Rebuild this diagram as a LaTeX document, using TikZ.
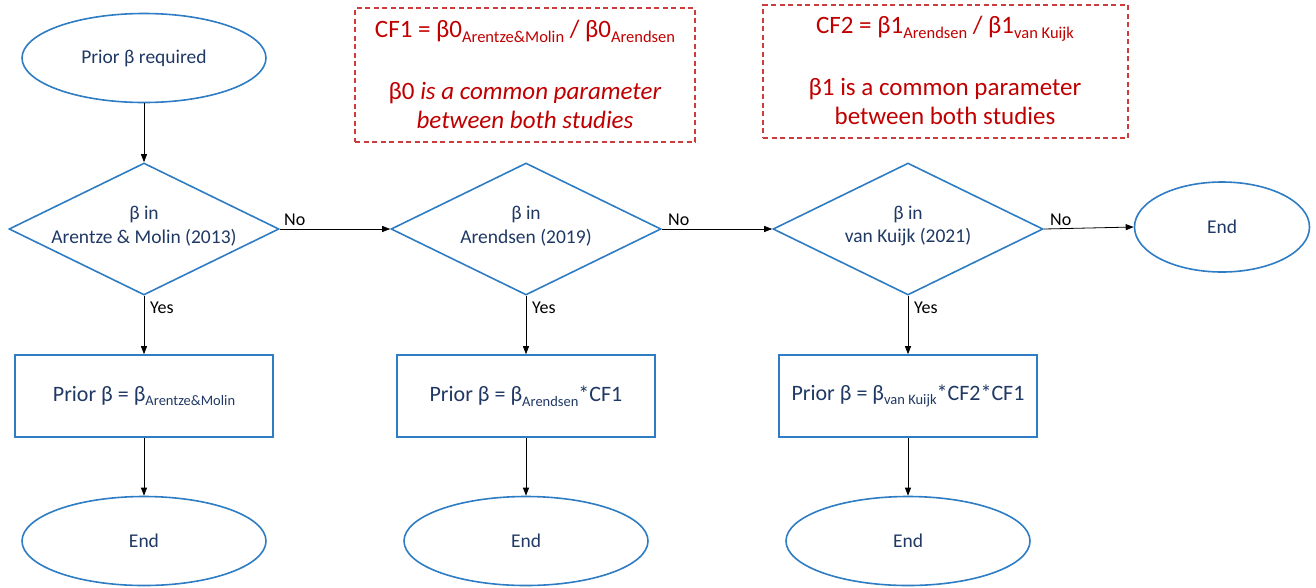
\documentclass[tikz,border=0pt]{standalone}
\usepackage{fontspec}
\setmainfont{Carlito}
\usetikzlibrary{shapes.geometric,arrows.meta}
\definecolor{flowblue}{RGB}{46,125,196}
\definecolor{navy}{RGB}{31,56,100}
\definecolor{noteRed}{RGB}{192,0,0}
\definecolor{dashRed}{RGB}{205,60,60}
% lowered, smaller subscripts for the blue and red texts
\newcommand\bsub[1]{\raisebox{-4.5pt}{\fontsize{14.5}{17}\selectfont #1}}
\newcommand\rsub[1]{\raisebox{-5pt}{\fontsize{16.5}{19}\selectfont #1}}
\begin{document}
\begin{tikzpicture}[x=1pt,y=-1pt,
  term/.style={ellipse,draw=flowblue,line width=1.6pt,minimum width=244pt,
    minimum height=89pt,inner sep=0pt,text=navy,font=\fontsize{19.5}{23}\selectfont},
  test/.style={diamond,draw=flowblue,line width=1.6pt,minimum width=270pt,
    minimum height=132pt,inner sep=0pt},
  testtext/.style={align=center,text=navy,inner sep=0pt,
    font=\fontsize{19.5}{23.5}\selectfont},
  assign/.style={rectangle,draw=flowblue,line width=1.6pt,minimum width=258pt,
    minimum height=82pt,inner sep=0pt,text=navy,font=\fontsize{22}{26}\selectfont},
  note/.style={rectangle,draw=dashRed,line width=1.3pt,dash pattern=on 5pt off 3.5pt,inner sep=0pt},
  notetext/.style={anchor=base,text=noteRed,inner sep=0pt,font=\fontsize{25}{30}\selectfont},
  flow/.style={draw=black,line width=0.8pt,-{Triangle[length=8pt,width=6pt]}},
  lbl/.style={anchor=base west,inner sep=0pt,font=\fontsize{18}{21}\selectfont}
]
\useasboundingbox (0,0) rectangle (1316,587);

% start
\node[term] (start) at (144,58) {Prior β required};

% decisions
\node[test] (d1) at (144,229) {};
\node[testtext] (d1t) at (144,226) {β in\\Arentze \& Molin (2013)};
\node[test] (d2) at (526,229) {};
\node[testtext] (d2t) at (526,226) {β in\\Arendsen (2019)};
\node[test] (d3) at (908,229) {};
\node[testtext] (d3t) at (908,226) {β in\\van Kuijk (2021)};

% assignments
\node[assign] (b1) at (144,396) {Prior β = β\bsub{Arentze\&Molin}};
\node[assign] (b2) at (526,396) {Prior β = β\bsub{Arendsen}*CF1};
\node[assign] (b3) at (908,396) {Prior β = β\bsub{van Kuijk}*CF2*CF1};

% terminals
\node[term] (e1) at (144,541) {End};
\node[term] (e2) at (526,541) {End};
\node[term] (e3) at (908,541) {End};
\node[term,minimum width=175pt,minimum height=90pt] (e4) at (1222,227) {End};

% correction-factor notes
\node[note,minimum width=340pt,minimum height=134pt] (n1) at (525,75) {};
\node[notetext] (n1a) at (525,37) {CF1 = β0\rsub{Arentze\&Molin} / β0\rsub{Arendsen}};
\node[notetext] (n1b) at (525,99) {β0 \textit{is a common parameter}};
\node[notetext] (n1c) at (525,128) {\textit{between both studies}};

\node[note,minimum width=365pt,minimum height=133pt] (n2) at (945.5,71.5) {};
\node[notetext] (n2a) at (945,33) {CF2 = β1\rsub{Arendsen} / β1\rsub{van Kuijk}};
\node[notetext] (n2b) at (945,95) {β1 is a common parameter};
\node[notetext] (n2c) at (945,124) {between both studies};

% connectors
\draw[flow] (start) -- (d1);
\draw[flow] (d1.east) -- (d2.west);
\draw[flow] (d2.east) -- (d3.west);
\draw[flow] (d3.east) -- (e4.west);
\draw[flow] (d1.south) -- (b1.north);
\draw[flow] (d2.south) -- (b2.north);
\draw[flow] (d3.south) -- (b3.north);
\draw[flow] (b1) -- (e1);
\draw[flow] (b2) -- (e2);
\draw[flow] (b3) -- (e3);

% branch labels
\node[lbl] (no1) at (284,225) {No};
\node[lbl] (no2) at (668,225) {No};
\node[lbl] (no3) at (1050,225) {No};
\node[lbl] (yes1) at (150,313) {Yes};
\node[lbl] (yes2) at (532,313) {Yes};
\node[lbl] (yes3) at (914,313) {Yes};
\end{tikzpicture}
\end{document}
